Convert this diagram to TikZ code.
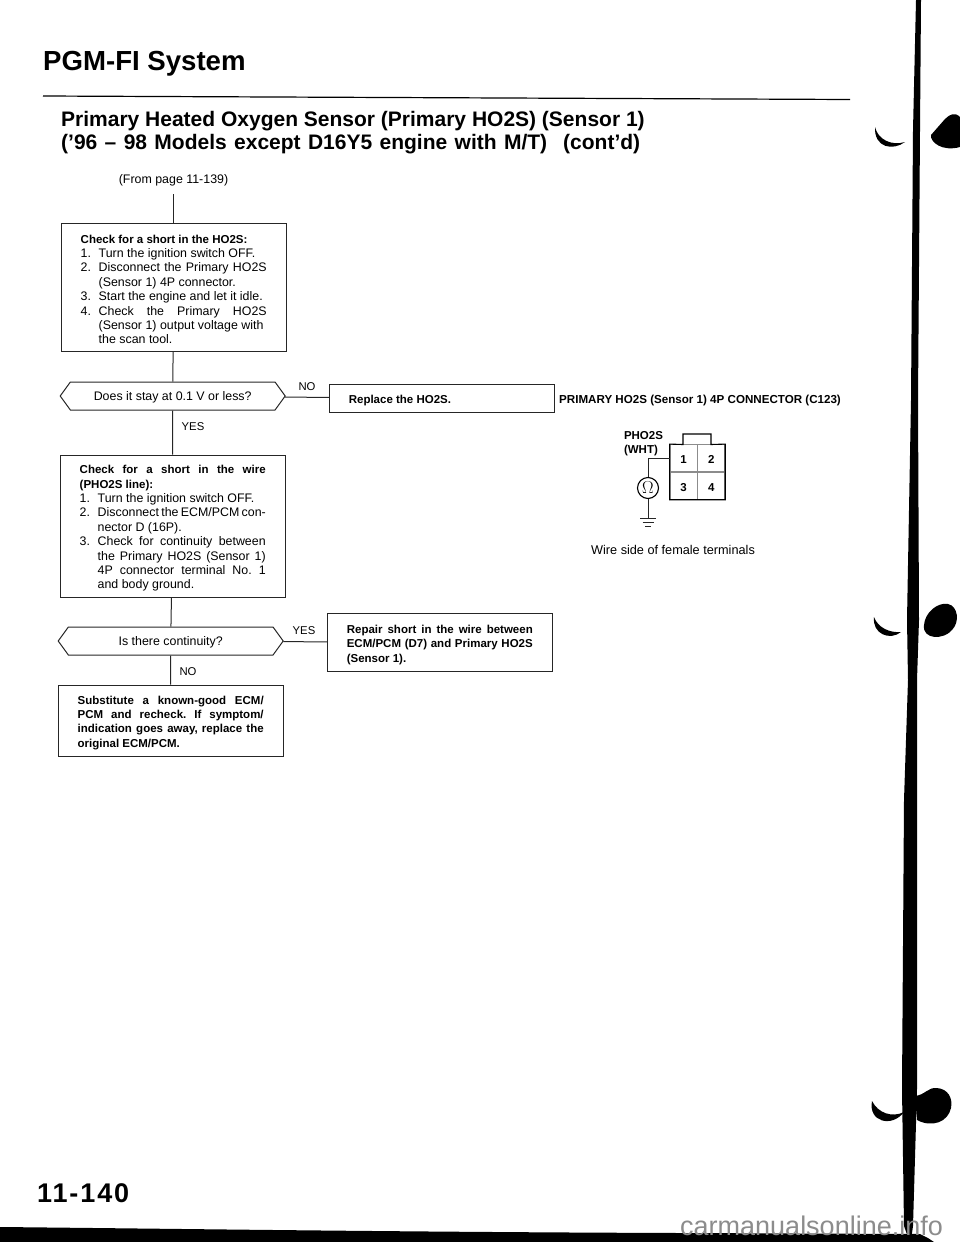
\documentclass[tikz,border=0pt]{standalone}
\usepackage{fontspec}
\setmainfont{Liberation Sans}
\usetikzlibrary{positioning, shapes.symbols}

\newcommand{\fitline}[1]{\makebox[186pt][s]{#1}}
\newcommand{\stepline}[2]{\makebox[18pt][l]{#1}#2}
\newcommand{\stepfit}[2]{\makebox[18pt][l]{#1}\makebox[168pt][s]{#2}}
\newcommand{\stepmore}[1]{\hspace*{18pt}#1}
\newcommand{\heavy}{\fontsize{11.5}{14.4}\bfseries\selectfont}

\begin{document}
\begin{tikzpicture}[
  x=1pt, y=-1pt,
  node distance=29pt,
  body/.style={font=\fontsize{12.4}{14.4}\selectfont},
  boldbody/.style={font=\heavy},
  chkbox/.style={draw=black!85, line width=1pt, minimum width=225pt, text width=186pt, inner xsep=19.5pt, inner ysep=0pt, align=left, body, execute at begin node={\spaceskip=0pt\xspaceskip=0pt\frenchspacing\rule{0pt}{13pt}}},
  decide/.style={draw=black!85, line width=1pt, shape=signal, signal to=west and east, signal pointer angle=108, minimum width=225pt, minimum height=28pt, inner sep=0pt, align=center, font=\fontsize{12.4}{14.4}\selectfont, execute at begin node=\rule{0pt}{12pt}},
  answer/.style={inner sep=0pt, font=\fontsize{11.3}{14.4}\selectfont},
  plain/.style={inner sep=0pt, body},
  link/.style={draw=black!85, line width=1pt},
  cell/.style={draw=black!45, line width=0.8pt, minimum width=27pt, minimum height=27pt, inner sep=0pt, text height=11pt, text depth=0pt, font=\fontsize{11.5}{12}\bfseries\selectfont},
  ink/.style={fill=black, draw=none}
]
  \useasboundingbox (0,0) rectangle (960,1242);

  % page head
  \node[anchor=west, inner sep=0pt, font=\fontsize{27.6}{30}\bfseries\selectfont] (title) at (43,63.5) {PGM-FI System};
  \coordinate (rulea) at (43,96);
  \coordinate (ruleb) at (850,99.5);
  \draw[line width=1.2pt] (rulea) -- (ruleb);
  \node[anchor=north west, inner sep=0pt, align=left, font=\fontsize{21}{23}\bfseries\selectfont] (head) at (61,111.5)
    {Primary Heated Oxygen Sensor (Primary HO2S) (Sensor 1)\\\makebox[486pt][s]{(’96 -- 98 Models except D16Y5 engine with M/T)}\hspace{16pt}(cont’d)};

  % flow chart
  \node[plain] (from) at (173.5,180) {(From page 11-139)};
  \coordinate (fromend) at (173.7,194);
  \node[chkbox, minimum height=128pt] (box1) at (173.7,287) {%
    {\heavy Check for a short in the HO2S:}\\
    \stepline{1.}{Turn the ignition switch OFF.}\\
    \stepfit{2.}{Disconnect the Primary HO2S}\\
    \stepmore{(Sensor 1) 4P connector.}\\
    \stepline{3.}{Start the engine and let it idle.}\\
    \stepfit{4.}{Check the Primary HO2S}\\
    \stepmore{(Sensor 1) output voltage with}\\
    \stepmore{the scan tool.}};
  \node[decide, below=30pt of box1, xshift=-1pt] (dec1) {Does it stay at 0.1 V or less?};
  \node[chkbox, boldbody, minimum height=28pt, right=43pt of dec1, yshift=-2.5pt] (replace) {Replace the HO2S.};
  \node[chkbox, minimum height=142pt, below=44pt of dec1] (box2) {%
    \fitline{\heavy Check for a short in the wire}\\
    {\heavy (PHO2S line):}\\
    \stepline{1.}{Turn the ignition switch OFF.}\\
    \stepfit{2.}{Disconnect the ECM/PCM con-}\\
    \stepmore{nector D (16P).}\\
    \stepfit{3.}{Check for continuity between}\\
    \stepmore{\makebox[168pt][s]{the Primary HO2S (Sensor 1)}}\\
    \stepmore{\makebox[168pt][s]{4P connector terminal No. 1}}\\
    \stepmore{and body ground.}};
  \node[decide, below=29pt of box2, xshift=-2pt] (dec2) {Is there continuity?};
  \node[chkbox, boldbody, minimum height=58pt, right=43pt of dec2, yshift=-1.5pt] (repair) {%
    \fitline{Repair short in the wire between}\\
    \fitline{ECM/PCM (D7) and Primary HO2S}\\
    (Sensor 1).};
  \node[chkbox, boldbody, minimum height=71pt, below=29pt of dec2] (box3) {%
    \fitline{Substitute a known-good ECM/}\\
    \fitline{PCM and recheck. If symptom/}\\
    \fitline{indication goes away, replace the}\\
    original ECM/PCM.};

  \draw[link] (fromend) -- (box1);
  \draw[link] (box1) -- (dec1);
  \draw[link] (dec1) -- (replace);
  \draw[link] (dec1) -- (box2);
  \draw[link] (box2) -- (dec2);
  \draw[link] (dec2) -- (repair);
  \draw[link] (dec2) -- (box3);

  \node[answer] (no1) at (307,387) {NO};
  \node[answer] (yes1) at (193,427) {YES};
  \node[answer] (yes2) at (304,631) {YES};
  \node[answer] (no2) at (188,672) {NO};

  % connector view
  \node[anchor=west, inner sep=0pt, font=\fontsize{11.6}{12}\bfseries\selectfont] (conn) at (559,400) {PRIMARY HO2S (Sensor 1) 4P CONNECTOR (C123)};
  \node[cell] (c1) at (683.5,458) {1};
  \node[cell, right=0pt of c1] (c2) {2};
  \node[cell, below=0pt of c1] (c3) {3};
  \node[cell, right=0pt of c3] (c4) {4};
  \draw[line width=1.1pt] (c1.north west) -- (c3.south west) -- (c4.south east) -- (c2.north east) -- (711,444.5) -- (711,434) -- (683,434) -- (683,444.5) -- cycle;
  \node[inner sep=0pt, align=left, font=\fontsize{11.5}{14}\bfseries\selectfont] (pin) at (643.5,444) {PHO2S\\(WHT)};
  \node[draw, circle, line width=1.1pt, minimum size=21pt, inner sep=0pt, font=\fontsize{16}{16}\selectfont] (ohm) at (648,488) {$\Omega$};
  \coordinate (gnd) at (648,518);
  \draw[link] (c1.west) -| (ohm);
  \draw[link] (ohm) -- (gnd);
  \draw[link] ([xshift=-8pt]gnd) -- ([xshift=8pt]gnd);
  \draw[link] ([xshift=-5.5pt,yshift=-4pt]gnd) -- ([xshift=5.5pt,yshift=-4pt]gnd);
  \draw[link] ([xshift=-3pt,yshift=-8pt]gnd) -- ([xshift=3pt,yshift=-8pt]gnd);
  \node[inner sep=0pt, font=\fontsize{12.7}{14}\selectfont] (side) at (673,550) {Wire side of female terminals};

  % page number and scan marks
  \node[anchor=west, inner sep=0pt, font=\fontsize{27}{30}\bfseries\selectfont\addfontfeatures{LetterSpace=7}] (page) at (37,1193) {11-140};
  \path[ink] (916,0) -- (921,0) -- (920,130) -- (918,400) -- (919,620) -- (917,680) -- (917,1089) -- (913,1226) -- (911,1240) -- (909,1240) -- (904,1226) -- (902,1089) -- (904,800) -- (908,680) -- (907,620) -- (911,400) -- (913,130) -- cycle;
  \path[ink] (875,127) .. controls (878,140) and (892,146) .. (905,142) .. controls (893,151) and (874,148) .. cycle;
  \path[ink] (874,617) .. controls (878,628) and (890,633) .. (901,632) .. controls (890,641) and (872,634) .. cycle;
  \path[ink] (872,1101) .. controls (878,1113) and (892,1118) .. (904,1112) .. controls (892,1128) and (868,1122) .. cycle;
  \path[ink] (960,117) .. controls (955,112) and (950,114) .. (945,119) -- (931,135) .. controls (930,142) and (942,152) .. (960,147) -- cycle;
  \path[ink] (924,625) .. controls (925,612) and (938,602) .. (948,604) .. controls (958,606) and (960,622) .. (952,630) .. controls (944,640) and (922,640) .. cycle;
  \path[ink] (915,1096) .. controls (925,1095) and (928,1087) .. (937,1088) .. controls (948,1089) and (953,1098) .. (951,1108) .. controls (948,1122) and (932,1128) .. (917,1120) -- cycle;
  \path[ink] (0,1227) .. controls (200,1229) and (400,1232) .. (680,1233) -- (920,1234) -- (928,1238) -- (934,1242) -- (0,1242) -- cycle;
  \node[anchor=west, inner sep=0pt, text=black!45, font=\fontsize{27}{30}\selectfont] (mark) at (680,1226) {carmanualsonline.info};
\end{tikzpicture}
\end{document}
